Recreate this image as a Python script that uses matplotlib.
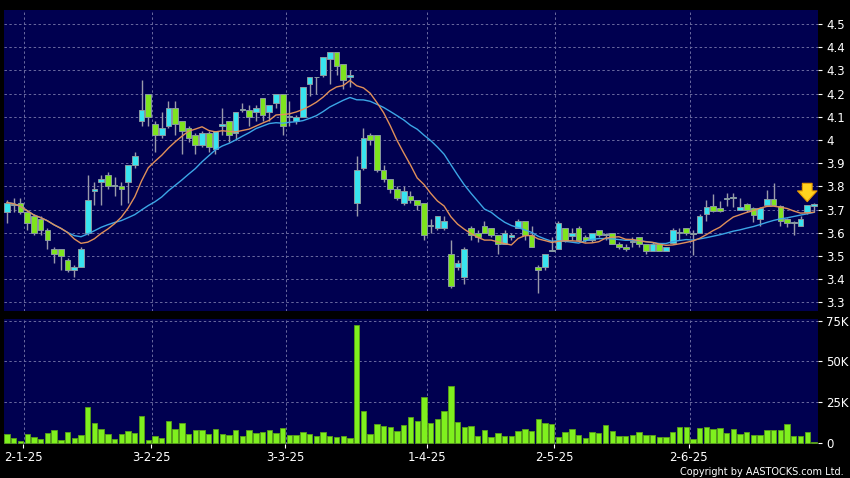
import numpy as np
import pandas as pd
import matplotlib
matplotlib.use("Agg")
import matplotlib.pyplot as plt
from matplotlib.ticker import FuncFormatter

# --- data (one bar per trading day) ---
opens = [3.69, 3.72, 3.73, 3.69, 3.67, 3.66, 3.61, 3.53, 3.53, 3.48,
         3.44, 3.45, 3.60, 3.78, 3.82, 3.85, 3.80, 3.80, 3.82, 3.89,
         4.08, 4.20, 4.07, 4.02, 4.06, 4.14, 4.08, 4.05, 4.02, 3.98,
         4.03, 3.96, 4.06, 4.08, 4.03, 4.13, 4.13, 4.12, 4.18, 4.12,
         4.16, 4.20, 4.10, 4.08, 4.10, 4.24, 4.27, 4.28, 4.35, 4.38,
         4.33, 4.27, 3.73, 3.88, 4.02, 4.02, 3.87, 3.83, 3.79, 3.73,
         3.76, 3.74, 3.73, 3.63, 3.62, 3.62, 3.51, 3.45, 3.41, 3.62,
         3.60, 3.63, 3.62, 3.59, 3.55, 3.58, 3.62, 3.65, 3.59, 3.45,
         3.45, 3.52, 3.53, 3.62, 3.585, 3.62, 3.58, 3.57, 3.61, 3.59,
         3.60, 3.55, 3.54, 3.56, 3.58, 3.55, 3.52, 3.55, 3.52, 3.555,
         3.60, 3.62, 3.595, 3.60, 3.68, 3.715, 3.705, 3.745, 3.75, 3.70,
         3.725, 3.705, 3.66, 3.72, 3.745, 3.715, 3.66, 3.64, 3.63, 3.69,
         3.715]
highs = [3.74, 3.75, 3.75, 3.70, 3.68, 3.67, 3.62, 3.54, 3.53, 3.49,
         3.46, 3.54, 3.85, 3.82, 3.85, 3.86, 3.84, 3.82, 3.89, 3.95,
         4.26, 4.20, 4.08, 4.12, 4.17, 4.17, 4.08, 4.06, 4.03, 4.04,
         4.04, 4.04, 4.14, 4.08, 4.12, 4.16, 4.15, 4.15, 4.18, 4.15,
         4.20, 4.20, 4.17, 4.11, 4.23, 4.27, 4.27, 4.36, 4.38, 4.38,
         4.33, 4.30, 3.93, 4.05, 4.03, 4.02, 3.89, 3.83, 3.80, 3.80,
         3.78, 3.74, 3.73, 3.66, 3.67, 3.67, 3.57, 3.48, 3.54, 3.63,
         3.61, 3.65, 3.62, 3.59, 3.61, 3.60, 3.66, 3.65, 3.63, 3.46,
         3.51, 3.58, 3.65, 3.62, 3.62, 3.63, 3.59, 3.60, 3.61, 3.60,
         3.60, 3.56, 3.55, 3.58, 3.58, 3.55, 3.56, 3.55, 3.54, 3.62,
         3.62, 3.62, 3.61, 3.68, 3.74, 3.765, 3.735, 3.77, 3.77, 3.75,
         3.73, 3.71, 3.71, 3.785, 3.815, 3.72, 3.665, 3.65, 3.67, 3.72,
         3.73]
lows = [3.64, 3.69, 3.68, 3.61, 3.59, 3.59, 3.53, 3.47, 3.44, 3.43,
        3.41, 3.45, 3.59, 3.72, 3.72, 3.79, 3.76, 3.72, 3.73, 3.88,
        4.06, 4.06, 3.95, 4.01, 4.05, 4.02, 3.94, 3.99, 3.94, 3.97,
        3.95, 3.94, 4.02, 3.99, 4.00, 4.12, 4.06, 4.08, 4.08, 4.08,
        4.14, 4.02, 4.06, 4.07, 4.10, 4.19, 4.20, 4.27, 4.24, 4.28,
        4.22, 4.23, 3.67, 3.87, 3.98, 3.86, 3.82, 3.77, 3.74, 3.72,
        3.73, 3.70, 3.57, 3.60, 3.61, 3.61, 3.36, 3.44, 3.38, 3.57,
        3.56, 3.60, 3.58, 3.51, 3.55, 3.57, 3.62, 3.57, 3.54, 3.34,
        3.44, 3.52, 3.53, 3.56, 3.57, 3.56, 3.56, 3.56, 3.58, 3.57,
        3.55, 3.53, 3.52, 3.54, 3.54, 3.51, 3.52, 3.52, 3.52, 3.55,
        3.57, 3.59, 3.505, 3.60, 3.65, 3.69, 3.69, 3.715, 3.71, 3.70,
        3.69, 3.645, 3.63, 3.715, 3.715, 3.63, 3.625, 3.59, 3.63, 3.68,
        3.69]
closes = [3.73, 3.72, 3.69, 3.64, 3.60, 3.61, 3.57, 3.51, 3.50, 3.44,
          3.45, 3.53, 3.74, 3.79, 3.83, 3.80, 3.80, 3.79, 3.89, 3.93,
          4.13, 4.10, 4.02, 4.05, 4.14, 4.07, 4.04, 4.01, 3.98, 4.03,
          3.97, 4.04, 4.07, 4.02, 4.12, 4.13, 4.10, 4.14, 4.11, 4.15,
          4.20, 4.06, 4.10, 4.10, 4.23, 4.27, 4.27, 4.36, 4.38, 4.32,
          4.26, 4.28, 3.87, 4.01, 4.00, 3.87, 3.83, 3.79, 3.75, 3.78,
          3.74, 3.72, 3.59, 3.63, 3.67, 3.65, 3.37, 3.47, 3.53, 3.59,
          3.58, 3.60, 3.59, 3.55, 3.60, 3.59, 3.65, 3.59, 3.54, 3.44,
          3.51, 3.52, 3.64, 3.57, 3.60, 3.57, 3.57, 3.60, 3.59, 3.595,
          3.55, 3.54, 3.53, 3.56, 3.55, 3.52, 3.55, 3.52, 3.54, 3.61,
          3.60, 3.60, 3.595, 3.67, 3.71, 3.695, 3.695, 3.75, 3.75, 3.71,
          3.70, 3.675, 3.705, 3.745, 3.72, 3.65, 3.64, 3.64, 3.66, 3.72,
          3.725]
# volume in thousands of shares
volumes_k = [5.5, 3.3, 1.4, 5.5, 3.9, 2.7, 6.4, 7.8, 2.0, 7.0,
             3.3, 5.1, 22.0, 12.3, 8.8, 5.5, 2.7, 5.7, 7.4, 6.4,
             16.4, 2.0, 4.7, 3.3, 13.5, 8.6, 12.1, 5.5, 8.0, 8.0,
             5.9, 8.6, 5.9, 5.3, 8.2, 4.5, 8.0, 6.1, 6.6, 7.8,
             6.1, 9.4, 4.9, 5.3, 7.0, 5.9, 4.7, 6.8, 4.5, 3.5,
             4.7, 3.1, 72.5, 20.0, 5.7, 11.7, 10.7, 9.6, 7.4, 11.1,
             16.0, 13.3, 28.3, 12.5, 14.5, 19.9, 35.0, 13.1, 9.8, 10.7,
             4.5, 8.2, 3.7, 6.4, 4.1, 4.7, 7.6, 8.4, 7.6, 15.0,
             12.1, 11.5, 3.9, 7.0, 8.8, 5.1, 3.3, 7.0, 6.4, 11.1,
             7.4, 4.5, 4.1, 4.9, 6.6, 5.1, 4.9, 3.5, 3.7, 7.0,
             10.0, 10.2, 2.3, 9.4, 10.2, 8.6, 9.2, 6.1, 8.6, 5.9,
             7.0, 5.3, 5.3, 7.8, 7.8, 7.8, 11.9, 4.5, 4.3, 7.0,
             0.8]

# bar index of the first trading day of each month, and its label
month_idx = [3, 22, 42, 63, 82, 102]
month_labels = ['2-1-25', '3-2-25', '3-3-25', '1-4-25', '2-5-25', '2-6-25']

price_ticks = [3.3, 3.4, 3.5, 3.6, 3.7, 3.8, 3.9, 4.0, 4.1, 4.2, 4.3, 4.4, 4.5]
volume_ticks = [0, 25000, 50000, 75000]

# --- styling ---
BG = '#000000'
PANEL = '#000050'
GRID = '#6a6aa0'
UP = '#38e4f0'
DOWN = '#7ee41e'
VOL = '#7ff01e'
WICK = '#9a9aaa'
MA_SHORT = '#e0905a'
MA_LONG = '#3ca6e6'

df = pd.DataFrame({'open': opens, 'high': highs, 'low': lows,
                   'close': closes, 'volume': np.array(volumes_k) * 1000})
df['ma10'] = df['close'].rolling(10, min_periods=1).mean()
df['ma20'] = df['close'].rolling(20, min_periods=1).mean()
x = np.arange(len(df))

fig = plt.figure(figsize=(8.5, 4.78), dpi=100, facecolor=BG)
ax = fig.add_axes([4 / 850, 1 - 311 / 478, 814 / 850, 301 / 478], facecolor=PANEL)
axv = fig.add_axes([4 / 850, 1 - 444 / 478, 814 / 850, 125 / 478], facecolor=PANEL)

grid_x = [m - 0.5 for m in month_idx]
for a in (ax, axv):
    for s in a.spines.values():
        s.set_visible(False)
    a.set_xlim(-0.45, 120.6)
    a.yaxis.tick_right()
    a.tick_params(axis='y', colors='white', length=3, width=0.8, pad=3, labelsize=8.5)
    for gx in grid_x:
        a.axvline(gx, color=GRID, lw=0.7, ls=(0, (2.5, 2.5)), zorder=0)

# price panel
for p in price_ticks:
    ax.axhline(p, color=GRID, lw=0.7, ls=(0, (2.5, 2.5)), zorder=0)

up = df['close'] >= df['open']
body_lo = np.minimum(df['open'], df['close'])
body_h = np.maximum((df['close'] - df['open']).abs(), 0.004)
ax.vlines(x, df['low'], df['high'], color=WICK, lw=1.0, zorder=2)
ax.bar(x, body_h, bottom=body_lo, width=0.84,
       color=np.where(up, UP, DOWN), edgecolor='#8a9aa0', linewidth=0.7, zorder=3)
ax.plot(x, df['ma20'], color=MA_LONG, lw=1.0, zorder=4)
ax.plot(x, df['ma10'], color=MA_SHORT, lw=1.0, zorder=4)

# marker arrow over the second-to-last bar
mark = len(df) - 2
ax.annotate('', xy=(mark, df['high'][mark] + 0.002), xytext=(mark, df['high'][mark] + 0.105),
            arrowprops=dict(arrowstyle='simple,head_width=1.0,head_length=0.55,tail_width=0.5',
                            mutation_scale=14, fc='#ffd21f', ec='#e89a00', lw=0.8),
            zorder=6)

ax.set_ylim(3.262, 4.561)
ax.set_yticks(price_ticks)
ax.yaxis.set_major_formatter(FuncFormatter(lambda v, _: f'{v:g}'))
ax.set_xticks(month_idx)
ax.tick_params(axis='x', length=0, labelbottom=False)

# volume panel
for v in volume_ticks[1:]:
    axv.axhline(v, color=GRID, lw=0.7, ls=(0, (2.5, 2.5)), zorder=0)
axv.bar(x, df['volume'], width=0.8, color=VOL, edgecolor='#5aa018', linewidth=0.6, zorder=3)
axv.set_ylim(-500, 76000)
axv.set_yticks(volume_ticks)
axv.yaxis.set_major_formatter(FuncFormatter(lambda v, _: '0' if v == 0 else f'{v / 1000:g}K'))
axv.set_xticks([m - 0.6 for m in month_idx])
axv.set_xticklabels(month_labels)
axv.tick_params(axis='x', colors='white', length=3, width=0.8, pad=2, labelsize=8.5)

fig.text(0.993, 0.003, 'Copyright by AASTOCKS.com Ltd.', color='white',
         fontsize=7, ha='right', va='bottom')

fig.savefig('out.png', dpi=100, facecolor=BG)
